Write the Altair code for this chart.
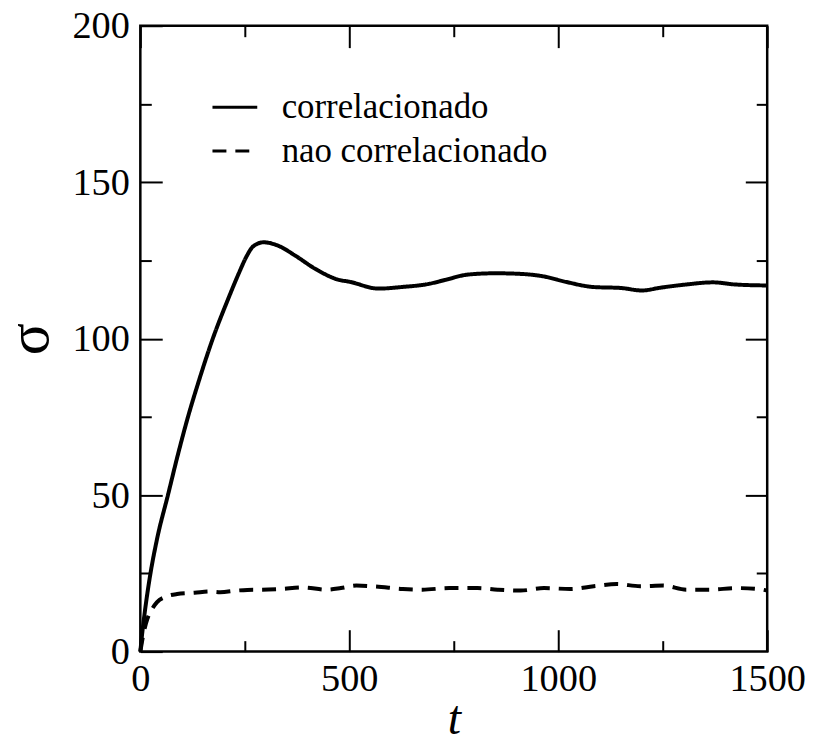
import altair as alt
import pandas as pd

# --- data ---
t_corr = [0, 5, 12, 23, 40, 66, 90, 114, 140, 172, 212, 236, 255, 270, 295, 330, 370,
          420, 475, 500, 570, 625, 690, 730, 785, 850, 910, 965, 1020, 1085, 1150, 1200,
          1245, 1305, 1370, 1425, 1500]
s_corr = [0, 6.5, 14, 24, 36, 50, 63, 75, 86.5, 99.5, 113.3, 121, 126.5, 129.5, 130.8,
          129.7, 126.6, 122.2, 118.8, 118.2, 116, 116.5, 117.5, 118.8, 120.5, 120.9, 120.7,
          119.9, 118.1, 116.5, 116.2, 115.4, 116.3, 117.3, 118, 117.3, 117]

t_nc = [0, 8, 17, 30, 40, 60, 88, 130, 167, 191, 230, 270, 287, 334, 390, 445, 480, 517, 564,
        628, 675, 739, 807, 855, 910, 966, 1029, 1085, 1140, 1196, 1251, 1307, 1363, 1426,
        1478, 1500]
s_nc = [0, 6, 10.5, 14, 15.8, 17.5, 18.4, 18.8, 19.2, 19, 19.5, 19.8, 19.8, 20, 20.5, 19.8,
        20.3, 21.1, 20.8, 20, 19.8, 20.3, 20.3, 19.8, 19.5, 20.3, 20, 20.9, 21.6, 20.9, 21.1,
        19.8, 19.8, 20.3, 20, 19.5]

series_names = ["correlacionado", "nao correlacionado"]
x_major = [0, 500, 1000, 1500]
x_minor = [250, 750, 1250]
y_major = [0, 50, 100, 150, 200]
y_minor = [25, 75, 125, 175]

df = pd.concat([
    pd.DataFrame({"t": t_corr, "s": s_corr, "serie": series_names[0]}),
    pd.DataFrame({"t": t_nc, "s": s_nc, "serie": series_names[1]}),
])

FONT = "Liberation Serif"
xscale = alt.Scale(domain=[0, 1500], nice=False, zero=False)
yscale = alt.Scale(domain=[0, 200], nice=False, zero=False)


def ax(orient, values, size, offset, labels=False, **kw):
    return alt.Axis(orient=orient, values=values, tickSize=size, offset=offset,
                    domain=False, grid=False, labels=labels, tickColor="black",
                    tickWidth=2, **kw)


base = alt.Chart(df)

lines = base.mark_line(color="black", strokeWidth=4, interpolate="monotone").encode(
    x=alt.X("t:Q", scale=xscale,
            axis=ax("bottom", x_major, 22, -22, labels=True, labelFont=FONT,
                    labelFontSize=38.5, labelColor="black", labelPadding=9,
                    labelFlush=False, labelOverlap=False, format="d",
                    title="t", titleFont=FONT, titleFontSize=48, titleFontStyle="italic",
                    titleFontWeight="normal", titleColor="black",
                    titleBaseline="alphabetic", titleY=104)),
    y=alt.Y("s:Q", scale=yscale,
            axis=ax("left", y_major, 22, -22, labels=True, labelFont=FONT,
                    labelFontSize=38.5, labelColor="black", labelPadding=11,
                    labelOverlap=False, format="d",
                    title="σ", titleFont=FONT, titleFontSize=60,
                    titleFontWeight="normal", titleColor="black", titleAngle=270,
                    titleBaseline="alphabetic", titleX=-115, titleY=314.5)),
    strokeDash=alt.StrokeDash(
        "serie:N",
        scale=alt.Scale(domain=series_names, range=[[1, 0], [14, 9]]),
        legend=alt.Legend(orient="none", legendX=71, legendY=58, title=None,
                          symbolType="stroke", symbolSize=2025, symbolStrokeWidth=3,
                          symbolStrokeColor="black", labelLimit=0,
                          labelFont=FONT, labelFontSize=35, labelColor="black",
                          labelOffset=23, rowPadding=2, padding=0),
    ),
    detail="serie:N",
)


def ghost(xa, ya):
    return base.mark_line(opacity=0).encode(
        x=alt.X("t:Q", scale=xscale, axis=xa),
        y=alt.Y("s:Q", scale=yscale, axis=ya),
        detail="serie:N",
    )


g1 = ghost(ax("bottom", x_minor, 11, -11, title=None),
           ax("left", y_minor, 11, -11, title=None))
g2 = ghost(ax("top", x_major, 22, -22, title=None),
           ax("right", y_major[1:-1], 22, -22, title=None))
g3 = ghost(ax("top", x_minor, 11, -11, title=None),
           ax("right", y_minor, 11, -11, title=None))

chart = alt.layer(lines, g1, g2, g3).resolve_axis(
    x="independent", y="independent"
).properties(
    width=630, height=629,
    background="white",
    autosize=alt.AutoSizeParams(type="none"),
    padding={"left": 133, "top": 16, "right": 40, "bottom": 85},
).configure_view(stroke="black", strokeWidth=2.5)

chart.save("out.html", embed_options={"renderer": "svg", "actions": False})
